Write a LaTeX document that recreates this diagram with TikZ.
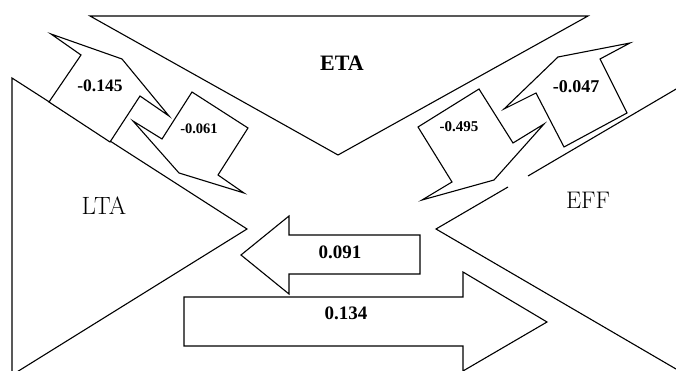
\documentclass[tikz,border=0pt]{standalone}
\usepackage{fontspec}
\newfontfamily\numfont{Liberation Serif}
\begin{document}
\begin{tikzpicture}[x=1pt,y=-1pt,
  shape line/.style={draw=black,line width=1.1pt,line join=miter},
  arrowshape/.style={shape line,fill=white},
  bigname/.style={inner sep=0pt,font=\fontsize{25}{25}\selectfont},
  numlabel/.style={inner sep=0pt,font=\numfont\bfseries\fontsize{#1}{#1}\selectfont}]
\useasboundingbox (0,0) rectangle (676,371);
\clip (0,0) rectangle (676,371);
% triangles
\draw[shape line] (90,16) -- (588,16) -- (338,155) -- cycle;
\draw[shape line] (12,78) -- (247,229) -- (12,375) -- cycle;
\draw[shape line] (700,75) -- (528,176);
\draw[shape line] (508,187) -- (436,229) -- (700,383);
% arrows between LTA and ETA
\draw[arrowshape] (49,102) -- (81,55) -- (51,34) -- (122,59) -- (169,116) -- (140,96) -- (110,142) -- cycle;
\draw[arrowshape] (192,92) -- (248,128) -- (218,175) -- (244,193) -- (179,173) -- (133,121) -- (162,139) -- cycle;
% arrows between ETA and EFF
\draw[arrowshape] (418,127) -- (479,89) -- (513,143) -- (544,124) -- (494,180) -- (422,200) -- (452,182) -- cycle;
\draw[arrowshape] (558,57) -- (630,43) -- (600,59) -- (627,113) -- (564,147) -- (536,93) -- (504,109) -- cycle;
% horizontal arrows
\draw[arrowshape] (241,255) -- (289,216) -- (289,235) -- (420,235) -- (420,274) -- (289,274) -- (289,294) -- cycle;
\draw[arrowshape] (184,297) -- (463,297) -- (463,272) -- (547,322) -- (463,371) -- (463,346) -- (184,346) -- cycle;
% names
\node[bigname] (lta) at (104,206) {LTA};
\node[inner sep=0pt,font=\numfont\bfseries\fontsize{22}{22}\selectfont] (eta) at (342,63) {ETA};
\node[bigname,font=\fontsize{24}{24}\selectfont] (eff) at (588,200) {EFF};
% values
\node[numlabel=17.5] (v145) at (100,86) {-0.145};
\node[numlabel=14.5] (v061) at (199,129) {-0.061};
\node[numlabel=15] (v495) at (459,127) {-0.495};
\node[numlabel=18] (v047) at (576,87) {-0.047};
\node[numlabel=19] (v091) at (340,252) {0.091};
\node[numlabel=19] (v134) at (346,313) {0.134};
\end{tikzpicture}
\end{document}
